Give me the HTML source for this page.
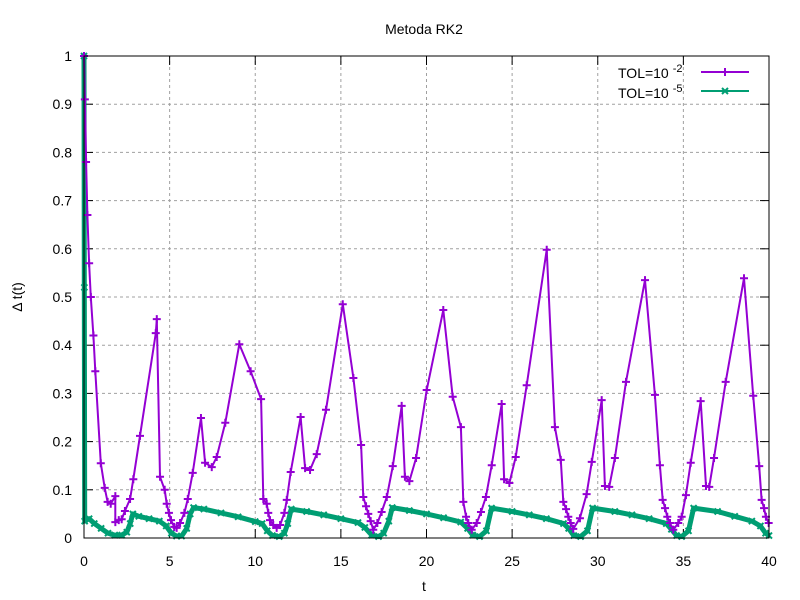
<!DOCTYPE html>
<html><head><meta charset="utf-8"><style>
html,body{margin:0;padding:0;background:#fff;}
svg{display:block;font-family:"Liberation Sans",sans-serif;}
</style></head><body>
<svg id="chart" width="800" height="600" xmlns="http://www.w3.org/2000/svg">
<rect width="800" height="600" fill="#fff"/>
<text x="424" y="34" text-anchor="middle" font-size="14">Metoda RK2</text>
<g id="grid"></g>
<g id="axes"></g>
<g id="series"></g>
<rect x="84" y="56" width="685" height="482" fill="none" stroke="#000" stroke-width="1"/>
<text x="424" y="591" text-anchor="middle" font-size="14">t</text>
<text transform="translate(22,297) rotate(-90)" text-anchor="middle" font-size="14">Δ t(t)</text>
<g>
<g>
<text x="618" y="78" font-size="14">TOL=10<tspan dx="4" dy="-6" font-size="11">-2</tspan></text>
<line x1="701" y1="72" x2="749" y2="72" stroke="#9400d3" stroke-width="2"/>
<path d="M721 72h8M725 68v8" stroke="#9400d3" stroke-width="2"/>
</g>
<g>
<text x="618" y="98" font-size="14">TOL=10<tspan dx="4" dy="-6" font-size="11">-5</tspan></text>
<line x1="701" y1="91" x2="749" y2="91" stroke="#009e73" stroke-width="2"/>
<path d="M722 88l6 6M728 88l-6 6" stroke="#009e73" stroke-width="2"/>
</g>
</g>
</svg>
<script>
const xTicks=[0,5,10,15,20,25,30,35,40];
const yTicks=[0,0.1,0.2,0.3,0.4,0.5,0.6,0.7,0.8,0.9,1];
const yTickLabels=["0","0.1","0.2","0.3","0.4","0.5","0.6","0.7","0.8","0.9","1"];
const tol2T=[0,0.05,0.12,0.2,0.3,0.4,0.55,0.66,0.98,1.21,1.38,1.56,1.83,1.83,2.03,2.20,2.39,2.69,2.88,3.27,4.19,4.25,4.44,4.71,4.83,4.96,5.08,5.27,5.41,5.61,5.86,6.06,6.35,6.83,7.07,7.46,7.75,8.25,9.07,9.73,10.34,10.47,10.67,10.76,10.86,11.05,11.25,11.45,11.70,11.84,12.07,12.65,12.91,13.2,13.59,14.13,15.11,15.73,16.18,16.31,16.47,16.6,16.74,16.89,17.13,17.38,17.68,18.03,18.55,18.74,19.0,19.39,20.01,20.98,21.53,22.01,22.15,22.31,22.44,22.64,22.93,23.18,23.47,23.81,24.39,24.53,24.84,25.21,25.85,27.02,27.5,27.84,27.99,28.15,28.28,28.42,28.57,28.96,29.35,29.65,30.23,30.42,30.67,31.0,31.65,32.76,33.34,33.63,33.79,33.93,34.06,34.22,34.41,34.70,34.9,35.15,35.43,36.01,36.32,36.51,36.79,37.47,38.54,39.08,39.43,39.57,39.71,39.82,39.98];
const tol2V=[1,0.91,0.78,0.67,0.57,0.5,0.42,0.346,0.155,0.104,0.075,0.071,0.087,0.033,0.037,0.039,0.056,0.081,0.122,0.212,0.425,0.454,0.127,0.100,0.071,0.052,0.037,0.023,0.021,0.031,0.052,0.081,0.135,0.249,0.156,0.147,0.168,0.239,0.402,0.346,0.288,0.081,0.071,0.052,0.037,0.027,0.021,0.027,0.052,0.079,0.137,0.251,0.145,0.141,0.174,0.266,0.485,0.332,0.193,0.085,0.066,0.050,0.035,0.017,0.031,0.054,0.085,0.149,0.274,0.127,0.118,0.166,0.307,0.473,0.293,0.230,0.075,0.044,0.031,0.017,0.031,0.054,0.085,0.151,0.278,0.122,0.114,0.168,0.317,0.598,0.230,0.162,0.075,0.060,0.044,0.031,0.019,0.041,0.091,0.158,0.286,0.108,0.106,0.166,0.324,0.535,0.297,0.151,0.079,0.062,0.044,0.031,0.017,0.031,0.044,0.089,0.156,0.284,0.108,0.106,0.166,0.324,0.539,0.295,0.149,0.079,0.062,0.044,0.031];
const tol5T=[0,0.02,0.04,0.3,0.6,1,1.4,1.8,2.2,2.5,2.7,2.85,3.2,3.8,4.4,4.8,5.1,5.4,5.7,6.0,6.2,6.4,7,8,9,10,10.4,10.7,11,11.4,11.7,11.9,12.1,13,14,15,16,16.4,16.8,17.2,17.5,17.8,18,19,20,21,22,22.4,22.7,23.1,23.5,23.8,25,26,27,28,28.3,28.6,29,29.4,29.7,31,32,33,34,34.3,34.6,34.9,35.3,35.6,37,38,39,39.5,39.8,40];
const tol5V=[1,0.52,0.035,0.04,0.03,0.02,0.01,0.006,0.006,0.012,0.03,0.05,0.045,0.04,0.035,0.025,0.01,0.004,0.004,0.02,0.05,0.063,0.06,0.052,0.044,0.034,0.03,0.015,0.005,0.003,0.01,0.03,0.06,0.055,0.048,0.04,0.032,0.022,0.006,0.003,0.01,0.035,0.063,0.057,0.05,0.042,0.033,0.02,0.006,0.003,0.015,0.062,0.055,0.048,0.04,0.03,0.02,0.005,0.003,0.015,0.062,0.055,0.048,0.04,0.03,0.018,0.005,0.003,0.015,0.062,0.055,0.045,0.035,0.025,0.01,0.005];

const NS="http://www.w3.org/2000/svg";
const X0=84,X1=769,Y0=538,Y1=56;
function xs(t){return X0+(t-0)/(40-0)*(X1-X0);}
function ys(v){return Y0-(v-0)/(1-0)*(Y0-Y1);}
function mk(tag,attrs,parent){const e=document.createElementNS(NS,tag);for(const k in attrs)e.setAttribute(k,attrs[k]);parent.appendChild(e);return e;}
const grid=document.getElementById('grid'),axes=document.getElementById('axes'),series=document.getElementById('series');
xTicks.forEach((t,i)=>{
  const x=xs(t);
  if(i>0&&i<xTicks.length-1){const g=mk('line',{x1:x,y1:Y0,x2:x,y2:Y1,stroke:'#a0a0a0','stroke-dasharray':'3,3','stroke-width':1},grid);
  
  }
  mk('line',{x1:x,y1:Y0,x2:x,y2:Y0-9,stroke:'#000'},axes);
  mk('line',{x1:x,y1:Y1,x2:x,y2:Y1+9,stroke:'#000'},axes);
  const l=mk('text',{x:x,y:566,'text-anchor':'middle','font-size':14},axes);l.textContent=String(t);
  
  
});
yTicks.forEach((v,i)=>{
  const y=ys(v);
  if(i>0&&i<yTicks.length-1){const g=mk('line',{x1:X0,y1:y,x2:X1,y2:y,stroke:'#a0a0a0','stroke-dasharray':'3,3','stroke-width':1},grid);
  
  }
  mk('line',{x1:X0,y1:y,x2:X0+9,y2:y,stroke:'#000'},axes);
  mk('line',{x1:X1,y1:y,x2:X1-9,y2:y,stroke:'#000'},axes);
  const l=mk('text',{x:72,y:y+5,'text-anchor':'end','font-size':14},axes);l.textContent=yTickLabels[i];
  
  
});
function drawSeries(T,V,color,marker,name,w){
  const g=mk('g',{},series);
  
  
  const d=T.map((t,i)=>(i?'L':'M')+xs(t).toFixed(1)+' '+ys(V[i]).toFixed(1)).join('');
  mk('path',{d:d,fill:'none',stroke:color,'stroke-width':w,'stroke-linejoin':'round'},g);
  T.forEach((t,i)=>{
    const x=xs(t),y=ys(V[i]);
    const md=marker==='plus'?`M${x-4} ${y}h8M${x} ${y-4}v8`:`M${x-3} ${y-3}l6 6M${x+3} ${y-3}l-6 6`;
    const m=mk('path',{d:md,stroke:color,'stroke-width':2},g);
    
    
  });
}
drawSeries(tol5T,tol5V,'#009e73','x','series-tol-1e-5',5);
drawSeries(tol2T,tol2V,'#9400d3','plus','series-tol-1e-2',2);
</script>
</body></html>
